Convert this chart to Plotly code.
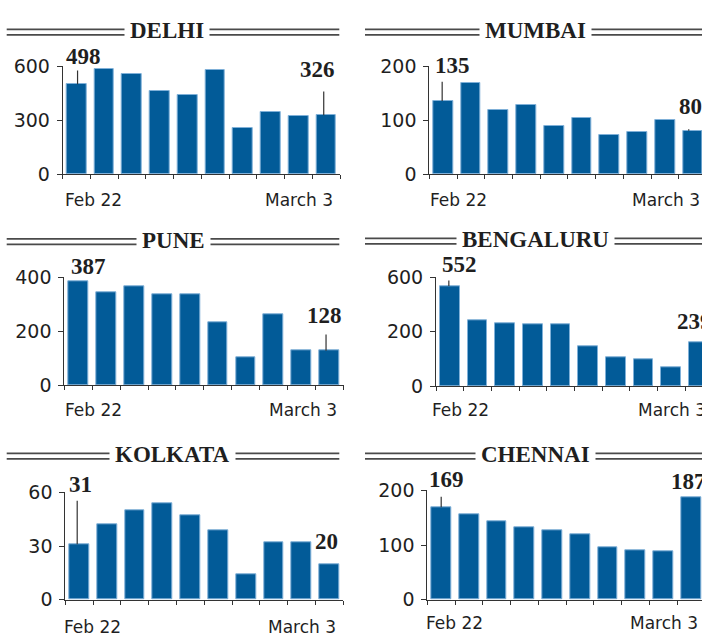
import plotly.graph_objects as go

W, H = 702, 641

# ---------------- data ----------------
dates = ["Feb 22", "Feb 23", "Feb 24", "Feb 25", "Feb 26",
         "Feb 27", "Feb 28", "March 1", "March 2", "March 3"]

delhi = [498, 581, 556, 461, 439, 580, 257, 343, 324, 326]
mumbai = [135, 168, 119, 128, 89, 103, 73, 77, 100, 80]
pune = [387, 344, 367, 338, 337, 235, 104, 264, 130, 128]
bengaluru = [552, 364, 348, 340, 339, 219, 158, 145, 103, 239]
kolkata = [31, 42, 50, 54, 47, 39, 14, 32, 32, 20]
chennai = [169, 156, 144, 133, 126, 119, 95, 91, 88, 187]

cities = ["DELHI", "MUMBAI", "PUNE", "BENGALURU", "KOLKATA", "CHENNAI"]
series = [delhi, mumbai, pune, bengaluru, kolkata, chennai]

y_tickvals = [[0, 300, 600], [0, 100, 200], [0, 200, 400],
              [0, 300, 600], [0, 30, 60], [0, 100, 200]]
y_ticktext = [["0", "300", "600"], ["0", "100", "200"], ["0", "200", "400"],
              ["0", "200", "600"], ["0", "30", "60"], ["0", "100", "200"]]
y_max = [600, 200, 400, 600, 60, 200]

# ---------------- layout geometry (pixels) ----------------
geom = [
    dict(L=62.7, R=340.0, top=66.0, bottom=174.0, tx=167.2, ty=30.6, lx=(6.7, 339.3), dy=200.0, fdx=0),
    dict(L=429.3, R=706.6, top=66.0, bottom=174.0, tx=535.5, ty=30.6, lx=(365.0, 702.0), dy=200.0, fdx=-1),
    dict(L=64.3, R=343.5, top=277.3, bottom=385.3, tx=173.0, ty=240.0, lx=(6.7, 339.3), dy=410.0, fdx=-1),
    dict(L=436.0, R=712.7, top=277.3, bottom=386.0, tx=535.2, ty=239.5, lx=(365.0, 702.0), dy=409.7, fdx=-6),
    dict(L=65.3, R=343.3, top=492.3, bottom=599.7, tx=172.8, ty=454.5, lx=(6.7, 339.3), dy=626.7, fdx=-3),
    dict(L=427.3, R=705.0, top=490.3, bottom=599.7, tx=535.8, ty=454.5, lx=(365.0, 702.0), dy=622.5, fdx=-3),
]

# value labels: (bar index, leader length px, leader dx, text dx, text gap above bar px)
value_labels = [
    [(0, 15.4, 1, 6.5, 19.4), (9, 25.3, -2.4, -9, 37.3)],
    [(0, 20.8, -1, 9, 27.0), (9, 3.0, -4, -2, 15.8)],
    [(0, 0, 0, 10.5, 5.8), (9, 17.7, -3.5, -5, 26.7)],
    [(0, 7.0, -1, 9.5, 12.7), (9, 0, 0, -4, 12.7)],
    [(0, 45.0, -2, 1, 51.0), (9, 0, 0, -3, 14.0)],
    [(0, 12.0, 0, 5.5, 19.6), (9, 0, 0, -3, 7.4)],
]

BAR = "#025b98"
EDGE = "#7fb0d8"
INK = "#1f1f1f"
AX = "#333333"
SANS = "DejaVu Sans"
SERIF = "Liberation Serif"


def pxx(p):
    return p / W


def pxy(p):
    return 1 - p / H


fig = go.Figure()
shapes = []
annotations = []
n = len(dates)
xs = list(range(n))

for i, (city, vals) in enumerate(zip(cities, series)):
    g = geom[i]
    k = "" if i == 0 else str(i + 1)
    xa, ya = "x" + k, "y" + k
    span = g["R"] - g["L"]
    right_px = min(g["R"], W)
    xmax = -0.5 + n * (right_px - g["L"]) / span

    fig.add_trace(go.Bar(
        x=xs, y=vals, xaxis=xa, yaxis=ya, width=0.71,
        marker=dict(color=BAR, line=dict(color=EDGE, width=1)),
        hoverinfo="skip", showlegend=False,
    ))

    fig.layout["xaxis" + k] = dict(
        domain=[pxx(g["L"]), pxx(right_px)], anchor=ya, automargin=False,
        range=[-0.5, xmax], tickmode="array",
        tickvals=[j - 0.5 for j in range(n + 1)],
        ticks="outside", ticklen=4, tickwidth=1, tickcolor=AX,
        showticklabels=False, showline=True, linecolor=AX, linewidth=1,
        showgrid=False, zeroline=False, fixedrange=True,
    )
    fig.layout["yaxis" + k] = dict(
        domain=[pxy(g["bottom"]), pxy(g["top"])], anchor=xa, automargin=False,
        range=[0, y_max[i]], tickmode="array",
        tickvals=y_tickvals[i], ticktext=y_ticktext[i],
        ticks="outside", ticklen=5, tickwidth=1, tickcolor=AX,
        ticklabelstandoff=3,
        tickfont=dict(family=SANS, size=19, color=INK),
        showline=True, linecolor=AX, linewidth=1,
        showgrid=False, zeroline=False, fixedrange=True,
    )

    # title double rules
    for off in (-1.2, 4.3):
        shapes.append(dict(type="line", xref="paper", yref="paper",
                           x0=pxx(g["lx"][0]), x1=pxx(g["lx"][1]),
                           y0=pxy(g["ty"] + off), y1=pxy(g["ty"] + off),
                           line=dict(color="#4a4a4a", width=1.7)))
    annotations.append(dict(
        text=city, xref="paper", yref="paper", x=pxx(g["tx"]), y=pxy(g["ty"]),
        xanchor="center", yanchor="middle", showarrow=False,
        bgcolor="white", borderpad=5,
        font=dict(family=SERIF, size=23, color=INK, weight=700),
    ))

    # date labels
    annotations.append(dict(
        text=dates[0], xref="paper", yref="paper", x=pxx(g["L"] + g["fdx"]), y=pxy(g["dy"]),
        xanchor="left", yanchor="middle", showarrow=False,
        font=dict(family=SANS, size=17, color=INK),
    ))
    annotations.append(dict(
        text=dates[-1], xref="paper", yref="paper", x=pxx(g["R"] - 5), y=pxy(g["dy"]),
        xanchor="right", yanchor="middle", showarrow=False,
        font=dict(family=SANS, size=17, color=INK),
    ))

    # value labels
    for (idx, llen, ldx, tdx, gap) in value_labels[i]:
        if llen > 0:
            annotations.append(dict(
                text="", xref=xa, yref=ya, x=idx, y=vals[idx],
                showarrow=True, arrowhead=0, arrowwidth=1.2, arrowcolor=AX,
                ax=0, ay=-llen, xshift=ldx, standoff=0, startstandoff=0,
            ))
        annotations.append(dict(
            text=str(vals[idx]), xref=xa, yref=ya, x=idx, y=vals[idx],
            xanchor="center", yanchor="bottom", showarrow=False,
            xshift=tdx, yshift=gap - 5, borderpad=0,
            font=dict(family=SERIF, size=23, color=INK, weight=700),
        ))

fig.update_layout(
    width=W, height=H,
    margin=dict(l=0, r=0, t=0, b=0, pad=0, autoexpand=False),
    paper_bgcolor="white", plot_bgcolor="white",
    shapes=shapes, annotations=annotations, bargap=0,
)

fig.write_html("out.html", config={"displayModeBar": False},
               post_script="document.body.style.margin='0px';")
